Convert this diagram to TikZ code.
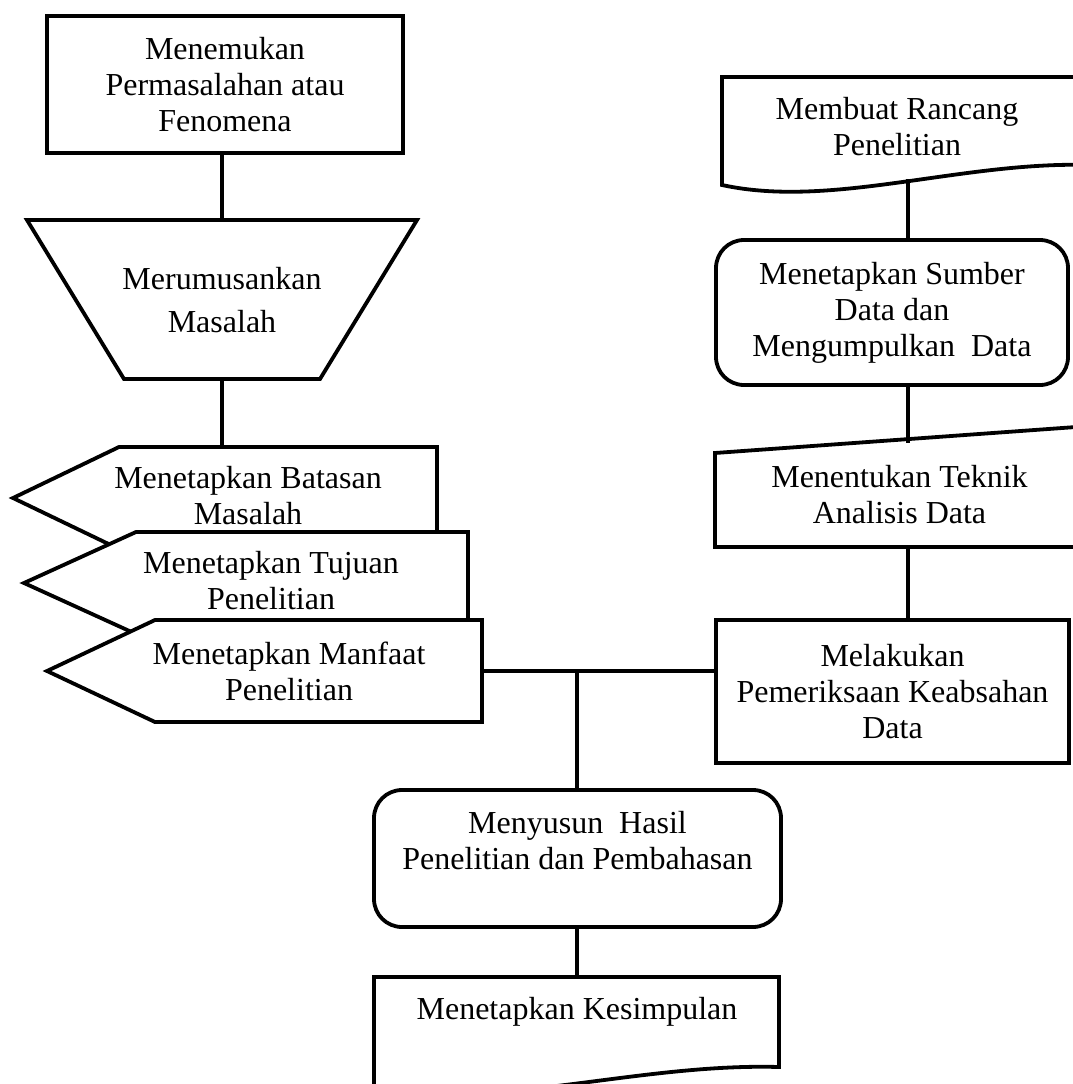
\documentclass[tikz,border=0pt]{standalone}
\usepackage{fontspec}
\setmainfont{Liberation Serif}
\tikzset{
  flowtext/.style={align=center, inner sep=0pt, font=\fontsize{32pt}{36pt}\selectfont},
  flowbox/.style={flowtext, draw, line width=3.8pt, fill=white},
  flowshape/.style={draw, line width=3.8pt, fill=white, line join=miter},
  flowline/.style={draw, line width=3.8pt},
}

\begin{document}
\begin{tikzpicture}[x=1pt,y=-1pt]%
\useasboundingbox (0,0) rectangle (1073,1084);%
\clip (0,0) rectangle (1073,1084);%
\coordinate (lcol) at (222,0);%
\coordinate (mcol) at (577,0);%
\coordinate (rcol) at (908,0);%
% left column
\node[flowbox, minimum width=356pt, minimum height=137pt] (fen) at (225,84.5) {Menemukan\\Permasalahan atau\\Fenomena};%
\draw[flowshape] (27,220) -- (417,220) -- (320,379) -- (124,379) -- cycle;%
\node[flowtext, minimum height=159pt] (rumus) at (222,300.5) {Merumusankan\\[7pt]Masalah};%
\draw[flowshape] (13,498) -- (119,447) -- (437,447) -- (437,549) -- (119,549) -- cycle;%
\node[flowtext, minimum height=102pt] (batas) at (248,496) {Menetapkan Batasan\\Masalah};%
\draw[flowshape] (24,583) -- (136,532) -- (468,532) -- (468,634) -- (136,634) -- cycle;%
\node[flowtext] (tujuan) at (271,581) {Menetapkan Tujuan\\Penelitian};%
\draw[flowshape] (47,671) -- (155,620) -- (482,620) -- (482,722) -- (155,722) -- cycle;%
\node[flowtext, minimum width=386pt] (manfaat) at (289,671) {Menetapkan Manfaat\\Penelitian};%
% middle column
\node[flowbox, rounded corners=28pt, minimum width=407pt, minimum height=137pt] (hasil) at (577.5,858.5) {Menyusun\ \ Hasil\\Penelitian dan Pembahasan\\\mbox{}};%
\draw[flowshape] (374,977) -- (779,977) -- (779,1067) .. controls (637,1063) and (496,1111) .. (374,1087) -- cycle;%
\node[flowtext, minimum height=70pt] (simpul) at (577,1012) {Menetapkan Kesimpulan};%
% right column
\draw[flowshape] (722,77) -- (1090,77) -- (1090,165) .. controls (961,161) and (832,209) .. (722,185) -- cycle;%
\node[flowtext, minimum height=104pt] (rancang) at (897,127) {Membuat Rancang\\Penelitian};%
\node[flowbox, rounded corners=28pt, minimum width=352pt, minimum height=145pt] (sumber) at (892,312.5) {Menetapkan Sumber\\Data dan\\Mengumpulkan\ \ Data};%
\draw[flowshape] (715,453) -- (1090,426) -- (1090,547) -- (715,547) -- cycle;%
\node[flowtext, minimum height=104pt] (analisis) at (899.5,495) {Menentukan Teknik\\Analisis Data};%
\node[flowbox, minimum width=353pt, minimum height=143pt] (periksa) at (892.5,691.5) {Melakukan\\Pemeriksaan Keabsahan\\Data};%
% connectors
\draw[flowline] (fen.south -| lcol) -- (rumus.north -| lcol);%
\draw[flowline] (rumus.south -| lcol) -- (batas.north -| lcol);%
\draw[flowline] (rancang.south -| rcol) -- (sumber.north -| rcol);%
\draw[flowline] (sumber.south -| rcol) -- (analisis.north -| rcol);%
\draw[flowline] (analisis.south -| rcol) -- (periksa.north -| rcol);%
\draw[flowline] (manfaat.east) -- (manfaat.east -| periksa.west);%
\draw[flowline] (manfaat.east -| mcol) -- (hasil.north -| mcol);%
\draw[flowline] (hasil.south -| mcol) -- (simpul.north -| mcol);%
\end{tikzpicture}
\end{document}
